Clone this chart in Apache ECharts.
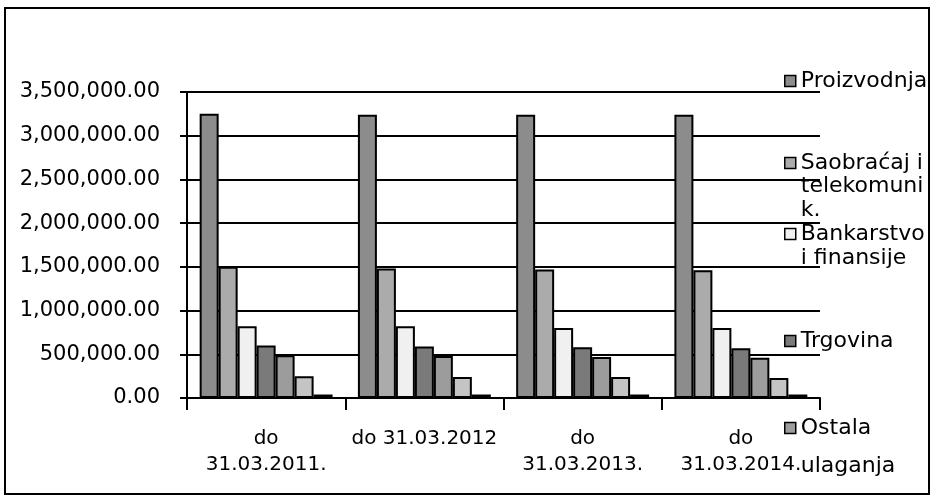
<!DOCTYPE html>
<html>
<head>
<meta charset="utf-8">
<script src="https://cdn.jsdelivr.net/npm/echarts@6/dist/echarts.min.js"></script>
<style>
  html, body { margin: 0; padding: 0; background: #fff; }
  #chart { width: 935px; height: 499px; }
</style>
</head>
<body>
<div id="chart"></div>
<script>
// 类别与数据
var categories = ['do\n31.03.2011.', 'do 31.03.2012', 'do\n31.03.2013.', 'do\n31.03.2014.'];
var seriesNames = ['Proizvodnja', 'Saobraćaj i telekomunik.', 'Bankarstvo i finansije', 'Trgovina', 'Ostala ulaganja', 'Serija 6', 'Serija 7'];
var proizvodnja = [3250000, 3240000, 3240000, 3240000];
var saobracaj = [1500000, 1480000, 1470000, 1460000];
var bankarstvo = [820000, 820000, 800000, 800000];
var trgovina = [600000, 590000, 580000, 570000];
var ostala = [490000, 480000, 470000, 460000];
var serija6 = [250000, 240000, 240000, 230000];
var serija7 = [40000, 40000, 40000, 40000];
var yTicks = [0, 500000, 1000000, 1500000, 2000000, 2500000, 3000000, 3500000];

var values = [proizvodnja, saobracaj, bankarstvo, trgovina, ostala, serija6, serija7];
var colors = ['#8c8c8c', '#ababab', '#f0f0f0', '#7a7a7a', '#9c9c9c', '#c4c4c4', '#e2e2e2'];
var font = 'DejaVu Sans';

var myChart = echarts.init(document.getElementById('chart'));

// 图例：每项单独放置，图标对齐第一行（前面补空行）
function legendItem(idx, lines, iconY, lh) {
  var n = lines.length;
  var pad = [];
  for (var k = 0; k < n - 1; k++) pad.push(' ');
  var text = pad.concat(lines).join('\n');
  var total = 2 * n - 1;
  return {
    orient: 'vertical',
    left: 784,
    top: iconY - total * lh / 2,
    itemWidth: 11,
    itemHeight: 11,
    itemGap: 3,
    padding: 0,
    icon: 'rect',
    data: [seriesNames[idx]],
    formatter: function () { return text; },
    itemStyle: { borderColor: '#000', borderWidth: 1.5 },
    textStyle: {
      fontFamily: font,
      fontSize: 22,
      color: '#000',
      lineHeight: lh
    }
  };
}

var series = values.map(function (d, i) {
  return {
    name: seriesNames[i],
    type: 'bar',
    data: d,
    barGap: 0,
    barCategoryGap: '16%',
    itemStyle: { color: colors[i], borderColor: '#000', borderWidth: 2 }
  };
});

var option = {
  animation: false,
  backgroundColor: '#fff',
  grid: { left: 187, right: 115, top: 92, bottom: 101 },
  legend: [
    legendItem(0, ['Proizvodnja'], 81, 24),
    legendItem(1, ['Saobraćaj i', 'telekomuni', 'k.'], 163, 23.5),
    legendItem(2, ['Bankarstvo', 'i finansije'], 234, 24),
    legendItem(3, ['Trgovina'], 341, 24),
    legendItem(4, ['Ostala', 'ulaganja'], 428, 38)
  ],
  xAxis: {
    type: 'category',
    data: categories,
    axisLine: { lineStyle: { color: '#000', width: 2 } },
    axisTick: { show: true, length: 12, lineStyle: { color: '#000', width: 2 } },
    axisLabel: {
      interval: 0,
      fontFamily: font,
      fontSize: 20,
      color: '#000',
      lineHeight: 26,
      margin: 28
    },
    splitLine: { show: false }
  },
  yAxis: {
    type: 'value',
    min: yTicks[0],
    max: yTicks[yTicks.length - 1],
    interval: 500000,
    axisLine: { show: true, lineStyle: { color: '#000', width: 2 } },
    axisTick: { show: true, length: 7, lineStyle: { color: '#000', width: 2 } },
    axisLabel: {
      fontFamily: font,
      fontSize: 21,
      color: '#000',
      margin: 27,
      formatter: function (v) {
        return v.toLocaleString('en-US', { minimumFractionDigits: 2, maximumFractionDigits: 2 });
      }
    },
    splitLine: { show: true, lineStyle: { color: '#000', width: 2 } }
  },
  graphic: [{
    type: 'rect',
    shape: { x: 5, y: 8, width: 924, height: 486 },
    style: { fill: null, stroke: '#000', lineWidth: 2 },
    silent: true,
    z: -1
  }],
  series: series
};

myChart.setOption(option);
</script>
</body>
</html>
